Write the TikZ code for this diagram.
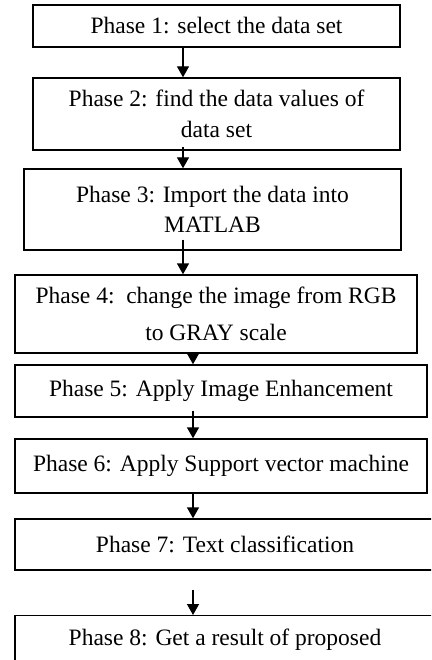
\documentclass[tikz,border=0pt]{standalone}
\usepackage{fontspec}
\setmainfont{Liberation Serif}
\usetikzlibrary{arrows.meta}
\begin{document}
\begin{tikzpicture}[x=1pt,y=-1pt,
  box/.style={draw=black, line width=1.4pt, rectangle, inner sep=0pt,
    align=center, font=\fontsize{23.5}{30.5}\selectfont},
  arr/.style={line width=1.4pt, -{Triangle[width=12pt,length=11pt]}}]
\useasboundingbox (0,0) rectangle (431,660);
\clip (0,0) rectangle (431,660);
\fill[white] (0,0) rectangle (431,660);

% arrow columns
\coordinate (colA) at (183,0);
\coordinate (colB) at (193,0);

% phase boxes
\node[box, minimum width=367pt, minimum height=42pt] (b1) at (216.5,26)
  {Phase 1: select the data set};
\node[box, minimum width=367pt, minimum height=72pt] (b2) at (216.5,114)
  {Phase 2: find the data values of\\data set};
\node[box, minimum width=377pt, minimum height=81pt] (b3) at (212.5,209.5)
  {Phase 3: Import the data into\\MATLAB};
\node[box, minimum width=402pt, minimum height=78pt] (b4) at (216,314)
  {Phase 4:\ \ change the image from RGB\\[7pt]to GRAY scale};
\node[box, minimum width=412pt, minimum height=52pt] (b5) at (221,391)
  {Phase 5: Apply Image Enhancement};
\node[box, minimum width=412pt, minimum height=54pt] (b6) at (221,466)
  {Phase 6: Apply Support vector machine};
\node[box, minimum width=420pt, minimum height=51pt] (b7) at (225,544.5)
  {Phase 7: Text classification};
\node[box, anchor=north, minimum width=420pt, inner ysep=14pt,
  text height=16pt, text depth=60pt] (b8) at (225,615)
  {Phase 8: Get a result of proposed};

% connectors
\draw[arr] (b1.south -| colA) -- (b2.north -| colA);
\draw[arr] ([yshift=4pt]b2.south -| colA) -- (b3.north -| colA);
\draw[arr] ([yshift=11pt]b3.south -| colA) -- (b4.north -| colA);
\draw[arr] (b4.south -| colB) -- (b5.north -| colB);
\draw[arr] ([yshift=7pt]b5.south -| colB) -- (b6.north -| colB);
\draw[arr] (b6.south -| colB) -- (b7.north -| colB);
\draw[arr] ([yshift=-19pt]b7.south -| colB) -- (b8.north -| colB);
\end{tikzpicture}
\end{document}
